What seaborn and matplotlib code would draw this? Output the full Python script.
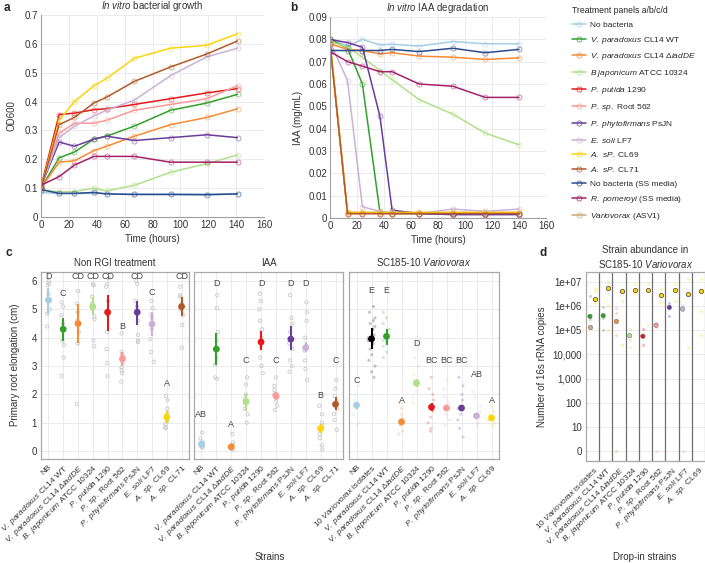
import numpy as np
import pandas as pd
import seaborn as sns
import matplotlib.pyplot as plt
from matplotlib.lines import Line2D
from matplotlib.colors import to_rgba

sns.set_theme(style="whitegrid")
plt.rcParams['font.family'] = ['Liberation Sans', 'DejaVu Sans']
plt.rcParams['mathtext.fontset'] = 'custom'
plt.rcParams['mathtext.rm'] = 'Liberation Sans'
plt.rcParams['mathtext.it'] = 'Liberation Sans:italic'
plt.rcParams['mathtext.bf'] = 'Liberation Sans:bold'

# ---- strain keys, colours, labels ----
colors = {
    'NB': '#a6cee3', 'WT': '#33a02c', 'dIAD': '#f98a35', 'Bjap': '#b2df8a',
    'Pput': '#e31a1c', 'P562': '#fb9a99', 'Pphy': '#6a3d9a', 'Esoli': '#cab2d6',
    'CL69': '#fbd50c', 'CL71': '#b15928', 'NBSS': '#2b4b8c', 'Rpom': '#a3216b',
    'ASV1': '#c9a97f', 'Vario10': '#000000',
}
legend_labels = {
    'NB': 'No bacteria',
    'WT': r'$\mathit{V.\ paradoxus}$ CL14 WT',
    'dIAD': r'$\mathit{V.\ paradoxus}$ CL14 $\Delta\mathit{iadDE}$',
    'Bjap': r'$\mathit{B\ japonicum}$ ATCC 10324',
    'Pput': r'$\mathit{P.\ putida}$ 1290',
    'P562': r'$\mathit{P.\ sp.}$ Root 562',
    'Pphy': r'$\mathit{P.\ phytofirmans}$ PsJN',
    'Esoli': r'$\mathit{E.\ soli}$ LF7',
    'CL69': r'$\mathit{A.\ sP.}$ CL69',
    'CL71': r'$\mathit{A.\ sP.}$ CL71',
    'NBSS': 'No bacteria (SS media)',
    'Rpom': r'$\mathit{R.\ pomeroyi}$ (SS media)',
    'ASV1': r'$\mathit{Variovorax}$ (ASV1)',
}
tick_labels = {
    'NB': 'NB',
    'Vario10': r'10 $\mathit{Variovorax}$ isolates',
    'WT': r'$\mathit{V.\ paradoxus}$ CL14 WT',
    'dIAD': r'$\mathit{V.\ paradoxus}$ CL14 $\Delta\mathit{iadDE}$',
    'Bjap': r'$\mathit{B.\ japonicum}$ ATCC 10324',
    'Pput': r'$\mathit{P.\ putida}$ 1290',
    'P562': r'$\mathit{P.\ sp.}$ Root 562',
    'Pphy': r'$\mathit{P.\ phytofirmans}$ PsJN',
    'Esoli': r'$\mathit{E.\ soli}$ LF7',
    'CL69': r'$\mathit{A.\ sp.}$ CL69',
    'CL71': r'$\mathit{A.\ sp.}$ CL71',
}

# ---- panel a: growth (OD600) ----
a_keys = ['NB', 'WT', 'dIAD', 'Bjap', 'Pput', 'P562', 'Pphy', 'Esoli', 'CL69', 'CL71', 'NBSS', 'Rpom']
time_a = [0, 13, 24, 38, 47, 67, 93, 119, 141]
od_nb = [0.085, 0.081, 0.081, 0.082, 0.081, 0.080, 0.080, 0.080, 0.081]
od_wt = [0.10, 0.205, 0.225, 0.27, 0.28, 0.315, 0.37, 0.395, 0.425]
od_diad = [0.10, 0.19, 0.195, 0.23, 0.245, 0.28, 0.32, 0.345, 0.375]
od_bjap = [0.095, 0.087, 0.088, 0.10, 0.09, 0.11, 0.155, 0.185, 0.215]
od_pput = [0.105, 0.355, 0.36, 0.372, 0.375, 0.39, 0.41, 0.43, 0.445]
od_p562 = [0.105, 0.29, 0.325, 0.325, 0.335, 0.37, 0.39, 0.41, 0.455]
od_pphy = [0.105, 0.26, 0.245, 0.27, 0.28, 0.265, 0.275, 0.285, 0.275]
od_esoli = [0.105, 0.275, 0.315, 0.35, 0.37, 0.405, 0.49, 0.555, 0.585]
od_cl69 = [0.10, 0.335, 0.40, 0.455, 0.48, 0.55, 0.585, 0.595, 0.635]
od_cl71 = [0.10, 0.32, 0.345, 0.395, 0.415, 0.47, 0.52, 0.565, 0.61]
od_nbss = [0.095, 0.082, 0.082, 0.085, 0.080, 0.078, 0.078, 0.077, 0.080]
od_rpom = [0.11, 0.14, 0.18, 0.21, 0.21, 0.21, 0.19, 0.19, 0.19]
od_series = [od_nb, od_wt, od_diad, od_bjap, od_pput, od_p562, od_pphy,
             od_esoli, od_cl69, od_cl71, od_nbss, od_rpom]

# ---- panel b: IAA (mg/mL) ----
time_b = [0, 13, 24, 37, 46, 66, 91, 115, 140]
iaa_nb = [0.080, 0.077, 0.080, 0.0775, 0.0778, 0.077, 0.079, 0.078, 0.078]
iaa_wt = [0.080, 0.076, 0.060, 0.0025, 0.002, 0.002, 0.002, 0.002, 0.002]
iaa_diad = [0.078, 0.0755, 0.075, 0.0735, 0.074, 0.0725, 0.072, 0.071, 0.0717]
iaa_bjap = [0.079, 0.0765, 0.072, 0.066, 0.062, 0.053, 0.0465, 0.038, 0.0328]
iaa_pput = [0.078, 0.002, 0.002, 0.002, 0.002, 0.002, 0.002, 0.002, 0.002]
iaa_p562 = [0.079, 0.0025, 0.0025, 0.0025, 0.0025, 0.0025, 0.0025, 0.0025, 0.0025]
iaa_pphy = [0.080, 0.0785, 0.0765, 0.0455, 0.0035, 0.002, 0.0015, 0.0015, 0.0015]
iaa_esoli = [0.079, 0.0615, 0.005, 0.003, 0.0025, 0.002, 0.004, 0.003, 0.004]
iaa_cl69 = [0.0785, 0.0025, 0.0025, 0.0025, 0.0025, 0.0025, 0.0025, 0.0025, 0.0025]
iaa_cl71 = [0.078, 0.002, 0.002, 0.002, 0.002, 0.002, 0.002, 0.002, 0.002]
iaa_nbss = [0.075, 0.075, 0.075, 0.075, 0.0755, 0.0745, 0.076, 0.074, 0.0755]
iaa_rpom = [0.0745, 0.070, 0.068, 0.0655, 0.0655, 0.060, 0.059, 0.054, 0.054]
iaa_series = [iaa_nb, iaa_wt, iaa_diad, iaa_bjap, iaa_pput, iaa_p562, iaa_pphy,
              iaa_esoli, iaa_cl69, iaa_cl71, iaa_nbss, iaa_rpom]

# ---- panel c: root elongation (cm) ----
c1_keys = ['NB', 'WT', 'dIAD', 'Bjap', 'Pput', 'P562', 'Pphy', 'Esoli', 'CL69', 'CL71']
c1_mean = [5.33, 4.3, 4.5, 5.1, 4.9, 3.25, 4.9, 4.48, 1.2, 5.1]
c1_lo = [4.85, 3.9, 3.8, 4.8, 4.25, 3.0, 4.45, 4.05, 1.0, 4.75]
c1_hi = [5.75, 4.7, 5.2, 5.45, 5.5, 3.5, 5.3, 4.9, 1.4, 5.45]
c1_letters = ['D', 'C', 'CD', 'CD', 'CD', 'B', 'CD', 'C', 'A', 'CD']
c1_letter_y = [6.15, 5.55, 6.15, 6.15, 6.15, 4.4, 6.15, 5.6, 2.4, 6.15]
c1_reps = [[6.0, 5.9, 5.85, 5.55, 5.3, 5.0, 4.85, 4.4],
           [5.25, 5.1, 4.8, 4.5, 4.3, 3.9, 3.75, 3.3, 2.65],
           [5.65, 5.2, 4.9, 4.6, 4.2, 3.8, 1.65],
           [5.9, 5.85, 5.45, 5.2, 5.0, 4.75, 4.65, 3.9, 3.7],
           [6.1, 5.9, 5.8, 5.3, 4.8, 4.2, 3.6, 3.1, 2.65],
           [4.15, 3.5, 3.4, 3.3, 3.1, 2.95, 2.85, 2.75, 2.45],
           [6.0, 5.9, 5.3, 5.1, 4.9, 4.6, 4.1, 3.9, 3.85],
           [5.3, 5.05, 4.8, 4.7, 4.5, 4.3, 3.95, 3.5, 3.15],
           [1.95, 1.8, 1.5, 1.35, 1.2, 1.05, 0.95, 0.85, 0.8],
           [5.8, 5.5, 5.45, 5.2, 5.0, 4.8, 4.45, 3.65]]

c2_keys = c1_keys
c2_mean = [0.25, 3.6, 0.15, 1.75, 3.85, 1.95, 3.95, 3.65, 0.8, 1.65]
c2_lo = [0.15, 3.05, 0.08, 1.4, 3.57, 1.8, 3.55, 3.5, 0.65, 1.45]
c2_hi = [0.35, 4.15, 0.25, 2.0, 4.24, 2.1, 4.4, 3.85, 0.95, 1.9]
c2_letters = ['AB', 'D', 'A', 'C', 'D', 'C', 'D', 'D', 'B', 'C']
c2_letter_y = [1.3, 5.9, 0.95, 3.2, 5.9, 3.2, 5.9, 5.9, 1.95, 3.2]
c2_reps = [[0.65, 0.45, 0.3, 0.2, 0.18, 0.15, 0.12],
           [5.5, 5.05, 4.2, 3.9, 3.6, 3.3, 3.05, 2.6, 2.55],
           [0.6, 0.3, 0.22, 0.15, 0.12, 0.08, 0.05],
           [2.6, 2.35, 2.0, 1.85, 1.7, 1.5, 1.3, 1.0],
           [5.55, 5.3, 5.0, 4.6, 4.3, 4.0, 3.7, 3.3, 3.0, 2.75],
           [2.6, 2.3, 2.15, 2.0, 1.9, 1.75, 1.6, 1.45],
           [5.5, 4.7, 4.5, 4.2, 3.8, 3.6, 3.2, 3.0, 2.8],
           [5.25, 4.9, 4.6, 4.0, 3.7, 3.55, 3.2, 2.9, 2.5],
           [1.6, 1.3, 1.0, 0.9, 0.75, 0.6, 0.45, 0.2, 0.05],
           [2.5, 2.2, 1.95, 1.75, 1.5, 1.3, 1.1, 0.75]]

c3_keys = ['NB', 'Vario10', 'WT', 'dIAD', 'Bjap', 'Pput', 'P562', 'Pphy', 'Esoli', 'CL69']
c3_mean = [1.62, 3.96, 4.05, 1.03, 2.4, 1.55, 1.52, 1.52, 1.24, 1.17]
c3_lo = [1.5, 3.6, 3.75, 0.95, 2.25, 1.42, 1.45, 1.42, 1.15, 1.1]
c3_hi = [1.74, 4.35, 4.3, 1.12, 2.55, 1.68, 1.6, 1.62, 1.33, 1.25]
c3_letters = ['C', 'E', 'E', 'A', 'D', 'BC', 'BC', 'BC', 'AB', 'A']
c3_letter_y = [2.5, 5.65, 5.65, 1.77, 3.8, 3.2, 3.2, 3.2, 2.7, 1.8]
c3_reps = [[2.3, 2.0, 1.8, 1.6, 1.5, 1.3, 1.0, 0.9],
           [5.1, 4.9, 4.7, 4.6, 4.5, 4.4, 4.3, 4.1, 4.0, 3.9, 3.8, 3.6, 3.4, 3.2, 3.0, 2.8, 2.6],
           [4.9, 4.7, 4.5, 4.3, 4.1, 3.9, 3.7, 3.5, 3.3],
           [1.7, 1.5, 1.3, 1.15, 1.0, 0.9, 0.7, 0.6],
           [3.3, 3.0, 2.7, 2.5, 2.3, 2.1, 1.9, 1.7],
           [2.6, 2.2, 2.0, 1.8, 1.6, 1.4, 1.2, 1.0, 0.8, 0.7],
           [2.5, 2.2, 1.9, 1.7, 1.5, 1.3, 1.1, 0.9],
           [2.6, 2.3, 2.0, 1.8, 1.5, 1.3, 1.1, 0.8, 0.5],
           [2.1, 1.9, 1.6, 1.4, 1.2, 1.0, 0.9],
           [1.6, 1.4, 1.3, 1.2, 1.1, 1.0, 0.9]]

# ---- panel d: abundance, log10(copies + 1) ----
d_keys = ['Vario10', 'WT', 'dIAD', 'Bjap', 'Pput', 'P562', 'Pphy', 'Esoli', 'CL69']
d_strain_color = ['WT', 'WT', 'dIAD', 'Bjap', 'Pput', 'P562', 'Pphy', 'Esoli', 'CL69']
d_strain_log = [5.57, 5.6, 5.36, 4.77, 4.75, 5.2, 5.94, 5.87, np.nan]
d_strain_reps = [[6.4, 5.6, 5.45], [5.95, 5.5, 5.0], [5.9, 5.7, 4.8, 0], [5.05, 4.6, 4.3],
                 [5.05, 4.7, 4.4], [5.3, 5.15, 0], [6.1, 5.9, 5.6], [6.05, 5.85, 0], []]
d_asv1_log = [5.13, np.nan, np.nan, np.nan, np.nan, np.nan, np.nan, np.nan, np.nan]
d_total_log = [6.30, 6.74, 6.6, 6.67, 6.67, 6.46, 6.65, 6.5, 6.63]
d_total_reps = [[6.75, 6.6, 6.1], [7.0, 6.8, 6.0, 5.0], [6.2, 4.4], [6.9, 6.6, 6.55],
                [6.95, 6.6, 5.2], [6.7, 6.1], [6.9, 6.2], [7.1, 4.3], [7.1, 6.7, 5.8, 4.8]]
d_tick_labels = ['0', '10', '100', '1,000', '10,000', '1e+05', '1e+06', '1e+07']

# ---- figure ----
W, H = 705, 563
fig = plt.figure(figsize=(W / 100, H / 100), dpi=100)
fig.patch.set_facecolor('white')


def box(l, t, r, b):
    return [l / W, 1 - b / H, (r - l) / W, (b - t) / H]


GRID = '#e8e8e8'
TXT = '#333333'
TICK_FS = 6.0


def style_line_axes(ax):
    ax.set_facecolor('white')
    ax.grid(True, color=GRID, lw=0.6)
    for s in ['top', 'right']:
        ax.spines[s].set_visible(False)
    for s in ['left', 'bottom']:
        ax.spines[s].set_color('#a0a0a0')
        ax.spines[s].set_linewidth(0.8)
    ax.tick_params(length=0, labelsize=7, pad=2, colors=TXT)


def long_df(keys, series, times):
    rows = [(k, t, v) for k, s in zip(keys, series) for t, v in zip(times, s)]
    return pd.DataFrame(rows, columns=['strain', 'time', 'value'])


def draw_lines(ax, df):
    sns.lineplot(data=df, x='time', y='value', hue='strain', hue_order=a_keys,
                 palette=colors, marker='o', markersize=3.6, linewidth=1.1,
                 legend=False, estimator=None, ax=ax)
    for ln in ax.lines:
        ln.set_markerfacecolor('none')
        ln.set_markeredgecolor(to_rgba(ln.get_color(), 0.5))
        ln.set_markeredgewidth(0.7)


# panel a
ax_a = fig.add_axes(box(41, 15, 264, 217))
draw_lines(ax_a, long_df(a_keys, od_series, time_a))
ax_a.set_xlim(0, 160)
ax_a.set_ylim(0, 0.7)
ax_a.set_xticks(range(0, 161, 20))
ax_a.set_yticks(np.arange(0, 0.71, 0.1))
ax_a.set_yticklabels(['0', '0.1', '0.2', '0.3', '0.4', '0.5', '0.6', '0.7'])
style_line_axes(ax_a)
ax_a.set_xlabel('Time (hours)', fontsize=7, color=TXT, labelpad=3)
ax_a.set_ylabel('OD600', fontsize=7, color=TXT, labelpad=6)
ax_a.set_title(r'$\mathit{In\ vitro}$ bacterial growth', fontsize=7, color=TXT, pad=4)

# panel b
ax_b = fig.add_axes(box(330, 17, 546, 218))
draw_lines(ax_b, long_df(a_keys, iaa_series, time_b))
ax_b.set_xlim(0, 160)
ax_b.set_ylim(0, 0.09)
ax_b.set_xticks(range(0, 161, 20))
ax_b.set_yticks(np.arange(0, 0.091, 0.01))
ax_b.set_yticklabels(['0'] + ['%.2f' % v for v in np.arange(0.01, 0.091, 0.01)])
style_line_axes(ax_b)
ax_b.set_xlabel('Time (hours)', fontsize=7, color=TXT, labelpad=3)
ax_b.set_ylabel('IAA (mg/mL)', fontsize=7, color=TXT, labelpad=4)
ax_b.set_title(r'$\mathit{In\ vitro}$ IAA degradation', fontsize=7, color=TXT, pad=4)

# legend
handles = [Line2D([], [], color=colors[k], lw=1.1, marker='o', markersize=3.6,
                  markerfacecolor='none', markeredgecolor=to_rgba(colors[k], 0.7),
                  markeredgewidth=0.7) for k in legend_labels]
fig.legend(handles, list(legend_labels.values()), loc='upper left',
           bbox_to_anchor=(567 / W, 1 - 1 / H), frameon=False, fontsize=6.0,
           title='Treatment panels a/b/c/d', title_fontsize=6.2, alignment='left',
           handlelength=1.7, handletextpad=0.5, labelspacing=0.7, borderaxespad=0.2)


# panel c
def draw_facet(ax, keys, reps, means, lo, hi, letters, letter_y, title, tinted):
    df = pd.DataFrame([(k, v) for k, r in zip(keys, reps) for v in r],
                      columns=['strain', 'value'])
    if tinted:
        sns.stripplot(data=df, x='strain', y='value', order=keys, hue='strain',
                      palette=colors, alpha=0.22, size=2.3, jitter=0.25,
                      legend=False, ax=ax)
    else:
        sns.stripplot(data=df, x='strain', y='value', order=keys, color='#c4c4c4',
                      size=2.4, jitter=0.12, ax=ax)
        for col in ax.collections:
            col.set_facecolor('none')
            col.set_edgecolor('#c8c8c8')
            col.set_linewidth(0.6)
    pos = np.arange(len(keys))
    cols = [colors[k] for k in keys]
    ax.vlines(pos, lo, hi, colors=cols, lw=1.5, zorder=4)
    ax.scatter(pos, means, c=cols, s=24, zorder=5, linewidths=0)
    for p, lab, y in zip(pos, letters, letter_y):
        ax.text(p, y, lab, ha='center', va='center', fontsize=6.5, color='#444444')
    ax.set_xlim(-0.5, len(keys) - 0.5)
    ax.set_ylim(-0.28, 6.32)
    ax.set_yticks(range(0, 7))
    ax.set_facecolor('white')
    ax.grid(True, color=GRID, lw=0.6)
    ax.set_axisbelow(True)
    for s in ax.spines.values():
        s.set_color('#a8a8a8')
        s.set_linewidth(0.9)
    ax.set_xlabel('')
    ax.set_ylabel('')
    ax.set_xticks(pos)
    ax.set_xticklabels([tick_labels[k] for k in keys], rotation=45, ha='right',
                       rotation_mode='anchor', fontsize=TICK_FS, color=TXT)
    ax.tick_params(length=0, labelsize=7, pad=3, colors=TXT)
    ax.tick_params(axis='x', labelsize=TICK_FS)
    ax.set_title(title, fontsize=7, color=TXT, pad=4)


np.random.seed(3)
ax_c1 = fig.add_axes(box(41, 272, 189, 459))
draw_facet(ax_c1, c1_keys, c1_reps, c1_mean, c1_lo, c1_hi, c1_letters, c1_letter_y,
           'Non RGI treatment', False)
ax_c2 = fig.add_axes(box(194, 272, 343, 459))
draw_facet(ax_c2, c2_keys, c2_reps, c2_mean, c2_lo, c2_hi, c2_letters, c2_letter_y,
           'IAA', False)
ax_c3 = fig.add_axes(box(349, 272, 499, 459))
draw_facet(ax_c3, c3_keys, c3_reps, c3_mean, c3_lo, c3_hi, c3_letters, c3_letter_y,
           r'SC185-10 $\mathit{Variovorax}$', True)
ax_c2.tick_params(labelleft=False)
ax_c3.tick_params(labelleft=False)
fig.text(15 / W, 1 - 365 / H, 'Primary root elongation (cm)', rotation=90,
         ha='center', va='center', fontsize=7, color=TXT)
fig.text(270 / W, 1 - 557 / H, 'Strains', ha='center', va='center', fontsize=7, color=TXT)

# panel d
ax_d = fig.add_axes(box(586, 272, 705, 461))
pos = np.arange(len(d_keys))
for i, (ck, reps, treps) in enumerate(zip(d_strain_color, d_strain_reps, d_total_reps)):
    ax_d.scatter(np.full(len(reps), i - 0.2), reps, color=colors[ck], alpha=0.3, s=5,
                 linewidths=0, zorder=3)
    ax_d.scatter(np.full(len(treps), i + 0.2), treps, color=colors['CL69'], alpha=0.3,
                 s=5, linewidths=0, zorder=3)
ax_d.scatter(pos - 0.2, d_strain_log, c=[colors[k] for k in d_strain_color], s=10,
             linewidths=0.3, edgecolors='#555555', zorder=5)
ax_d.scatter(pos - 0.2, d_asv1_log, color=colors['ASV1'], s=10, linewidths=0.3,
             edgecolors='#555555', zorder=5)
ax_d.scatter(pos + 0.2, d_total_log, color=colors['CL69'], s=10, linewidths=0.5,
             edgecolors='#444444', zorder=5)
for x in pos[:-1] + 0.5:
    ax_d.axvline(x, color='#6e6e6e', lw=0.9, zorder=2)
ax_d.set_xlim(-0.5, len(d_keys) - 0.5)
ax_d.set_ylim(-0.4, 7.4)
ax_d.set_yticks(range(8))
ax_d.set_yticklabels(d_tick_labels)
ax_d.set_xticks(pos)
ax_d.set_xticklabels([tick_labels[k] for k in d_keys], rotation=45, ha='right',
                     rotation_mode='anchor', fontsize=TICK_FS, color=TXT)
ax_d.grid(True, axis='y', color=GRID, lw=0.6)
ax_d.grid(False, axis='x')
ax_d.set_facecolor('white')
for s in ax_d.spines.values():
    s.set_color('#a8a8a8')
    s.set_linewidth(0.9)
ax_d.tick_params(length=0, labelsize=7, pad=3, colors=TXT)
ax_d.tick_params(axis='x', labelsize=TICK_FS)
ax_d.set_title('Strain abundance in\n' + r'SC185-10 $\mathit{Variovorax}$',
               fontsize=7, color=TXT, pad=3, linespacing=1.25)
ax_d.set_ylabel('Number of 16s rRNA copies', fontsize=7, color=TXT, labelpad=4)
fig.text(645 / W, 1 - 557 / H, 'Drop-in strains', ha='center', va='center',
         fontsize=7, color=TXT)

# panel letters
for lab, x, y in [('a', 4, 8), ('b', 290, 8), ('c', 5, 253), ('d', 540, 253)]:
    fig.text(x / W, 1 - y / H, lab, fontsize=8.5, fontweight='bold', ha='left', va='center')

fig.savefig('out.png', dpi=100, facecolor='white')
